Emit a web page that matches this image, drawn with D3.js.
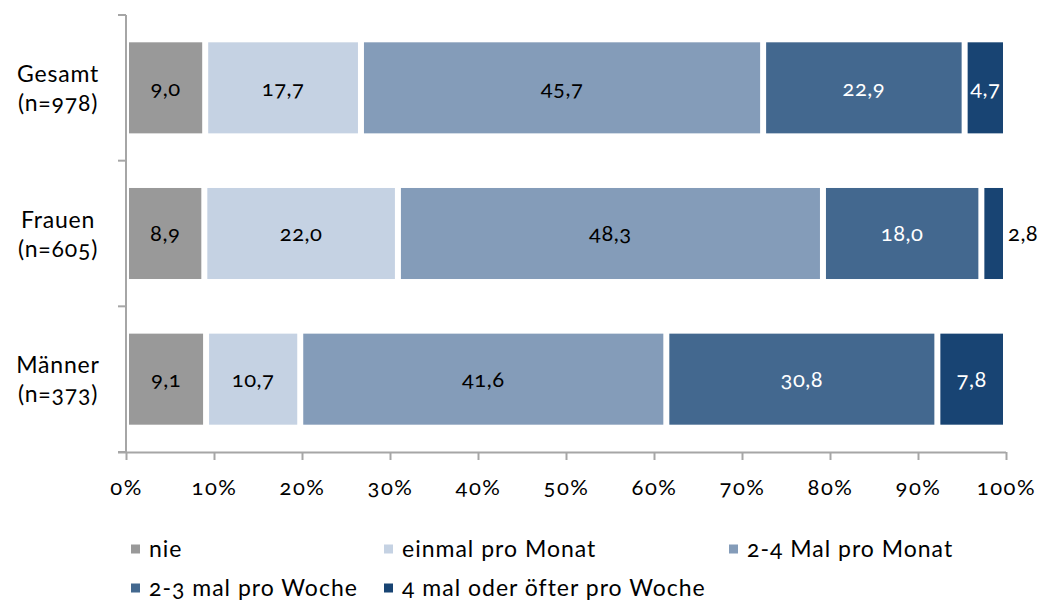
<!DOCTYPE html>
<html>
<head>
<meta charset="utf-8">
<script src="https://cdn.jsdelivr.net/npm/d3@7"></script>
<style>
  html, body { margin: 0; padding: 0; background: #fff; }
  svg text { font-family: Lato, "Open Sans", sans-serif; font-variant-numeric: oldstyle-nums; fill: #000; }
</style>
</head>
<body>
<svg id="chart" width="1043" height="601"></svg>
<script>
// Stacked shares (percent) per group
const groups = ["Gesamt", "Frauen", "Männer"];
const groupSizes = ["(n=978)", "(n=605)", "(n=373)"];
const seriesNames = ["nie", "einmal pro Monat", "2-4 Mal pro Monat", "2-3 mal pro Woche", "4 mal oder öfter pro Woche"];
const seriesColors = ["#999999", "#c5d2e3", "#849cb9", "#43688f", "#184473"];
const labelColors = ["#000", "#000", "#000", "#fff", "#fff"];
const nie = [9.0, 8.9, 9.1];
const einmalProMonat = [17.7, 22.0, 10.7];
const zweiBisVierProMonat = [45.7, 48.3, 41.6];
const zweiBisDreiProWoche = [22.9, 18.0, 30.8];
const vierUndMehrProWoche = [4.7, 2.8, 7.8];
const tickValues = [0, 10, 20, 30, 40, 50, 60, 70, 80, 90, 100];

const seriesValues = [nie, einmalProMonat, zweiBisVierProMonat, zweiBisDreiProWoche, vierUndMehrProWoche];
const rows = groups.map((g, i) => {
  const r = { group: g };
  seriesNames.forEach((s, k) => { r[s] = seriesValues[k][i]; });
  return r;
});

const svg = d3.select("#chart");
const plotLeft = 126, plotRight = 1006, plotTop = 15, plotBottom = 452;

const x = d3.scaleLinear().domain([0, 100]).range([plotLeft, plotRight]);
const y = d3.scaleBand().domain(groups).range([plotTop, plotBottom]).paddingInner(0.375).paddingOuter(0.1875);

const stacked = d3.stack().keys(seriesNames)(rows);
const gap = 3;
const fmt = v => v.toFixed(1).replace(".", ",");

// Bars
const layers = svg.append("g").selectAll("g").data(stacked).join("g")
  .attr("fill", (d, k) => seriesColors[k]);

layers.selectAll("rect").data(d => d).join("rect")
  .attr("x", d => x(d[0]) + gap)
  .attr("width", d => Math.max(0, x(d[1]) - x(d[0]) - 2 * gap))
  .attr("y", d => y(d.data.group))
  .attr("height", y.bandwidth());

// Value labels; narrow segments get their label beside the bar
layers.each(function (layer, k) {
  d3.select(this).selectAll("text").data(layer).join("text")
    .each(function (d) {
      const w = x(d[1]) - x(d[0]) - 2 * gap;
      const val = d[1] - d[0];
      const t = d3.select(this)
        .attr("y", y(d.data.group) + y.bandwidth() / 2)
        .attr("dy", "0.35em")
        .attr("font-size", 22)
        .attr("letter-spacing", 0.5)
        .text(fmt(val));
      if (w < 30) {
        t.attr("x", x(d[1]) + 2).attr("text-anchor", "start").style("fill", "#000");
      } else {
        t.attr("x", (x(d[0]) + x(d[1])) / 2).attr("text-anchor", "middle").style("fill", labelColors[k]);
      }
    });
});

// Axes
const axisColor = "#a6a6a6";
const xAxis = svg.append("g")
  .attr("transform", `translate(0,${plotBottom})`)
  .call(d3.axisBottom(x).tickValues(tickValues).tickSize(8).tickSizeOuter(0).tickFormat(d => d + "%"));
xAxis.select(".domain").attr("stroke", axisColor).attr("stroke-width", 2).attr("d", `M${plotLeft - 8},0.5H${plotRight}`);
xAxis.selectAll(".tick line").attr("stroke", axisColor).attr("stroke-width", 2);
xAxis.selectAll(".tick text")
  .attr("font-size", 22)
  .attr("letter-spacing", 1.5)
  .attr("dy", "1.45em")
  .style("font-family", "Lato, 'Open Sans', sans-serif");

const yTicks = y.domain().map(g => y(g) - y.step() * y.paddingInner() / 2).concat([plotBottom]);
const yAxis = svg.append("g");
yAxis.append("line").attr("x1", plotLeft).attr("x2", plotLeft).attr("y1", plotTop).attr("y2", plotBottom)
  .attr("stroke", axisColor).attr("stroke-width", 2);
yAxis.selectAll("line.tick").data(yTicks).join("line").attr("class", "tick")
  .attr("x1", plotLeft - 8).attr("x2", plotLeft).attr("y1", d => d).attr("y2", d => d)
  .attr("stroke", axisColor).attr("stroke-width", 2);

// Category labels
const catLabels = svg.append("g").selectAll("text").data(groups).join("text")
  .attr("x", 58)
  .attr("y", g => y(g) + y.bandwidth() / 2)
  .attr("text-anchor", "middle")
  .attr("font-size", 23)
  .attr("letter-spacing", 0.8);
catLabels.append("tspan").attr("x", 58).attr("dy", "-0.25em").text(g => g);
catLabels.append("tspan").attr("x", 58).attr("dy", "1.25em").text((g, i) => groupSizes[i]);

// Legend
const legendPos = [[131, 549], [384, 549], [729, 549], [131, 588], [384, 588]];
const legend = svg.append("g").selectAll("g").data(seriesNames).join("g")
  .attr("transform", (d, k) => `translate(${legendPos[k][0]},${legendPos[k][1]})`);
legend.append("rect").attr("x", 0).attr("y", -4.5).attr("width", 9).attr("height", 9)
  .attr("fill", (d, k) => seriesColors[k]);
legend.append("text").attr("x", 18).attr("dy", "0.35em").attr("font-size", 23)
  .attr("letter-spacing", 1).text(d => d);
</script>
</body>
</html>
